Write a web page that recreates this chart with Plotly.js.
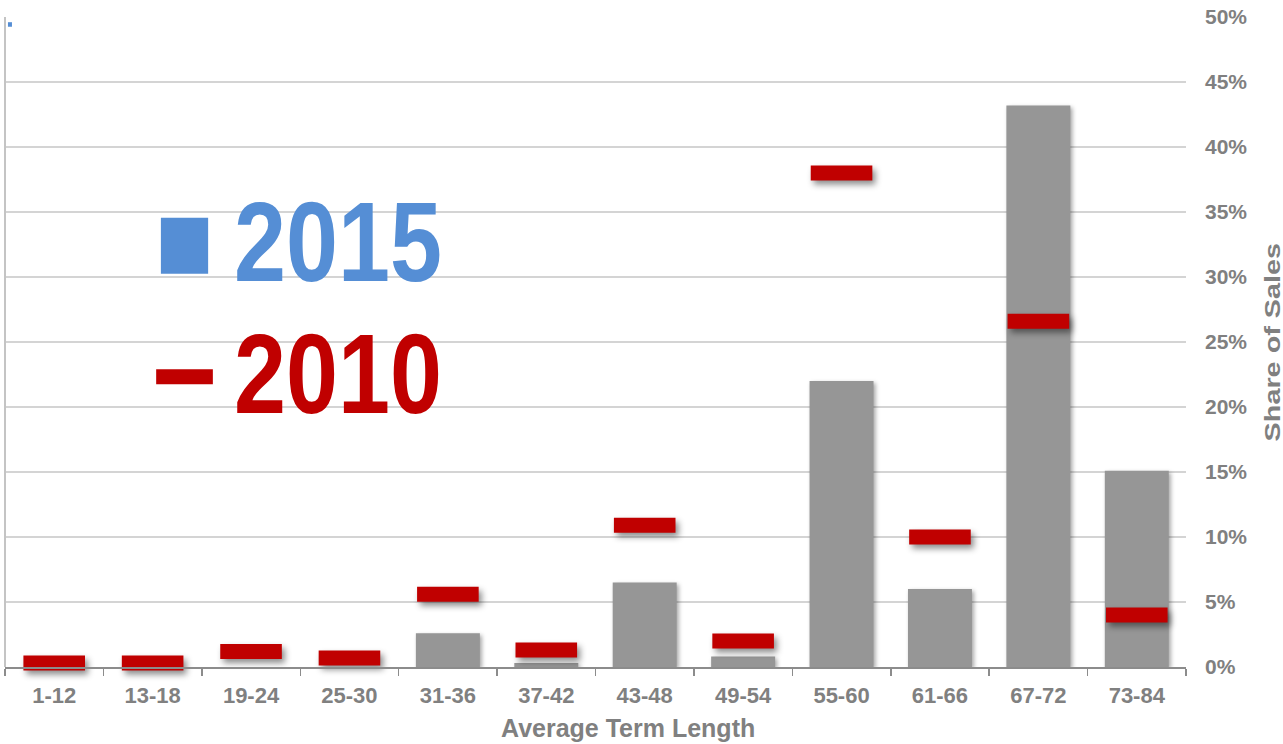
<!DOCTYPE html>
<html>
<head>
<meta charset="utf-8">
<script src="https://cdn.plot.ly/plotly-3.0.1.min.js"></script>
<style>
html,body{margin:0;padding:0;background:#fff;}
#chart{width:1283px;height:744px;}
.barlayer .point path{filter: drop-shadow(2px 2px 2px rgba(0,0,0,0.35));}
.scatterlayer .point{filter: drop-shadow(3px 4px 3px rgba(0,0,0,0.45));}
g.annotation[data-index="0"] text.annotation-text,
g.annotation[data-index="1"] text.annotation-text{transform-box: fill-box; transform-origin: left center; transform: scaleX(0.82);}
g.annotation[data-index="3"] text.annotation-text{transform-box: fill-box; transform-origin: center center; transform: scaleX(1.31);}
</style>
</head>
<body>
<div id="chart"></div>
<script>
var categories = ['1-12','13-18','19-24','25-30','31-36','37-42','43-48','49-54','55-60','61-66','67-72','73-84'];
var share2015 = [0, 0, 0, 0, 2.6, 0.3, 6.5, 0.8, 22.0, 6.0, 43.2, 15.1];
var share2010 = [0.3, 0.3, 1.2, 0.7, 5.6, 1.3, 10.9, 2.0, 38.0, 10.0, 26.6, 4.0];
var yTickVals = [0,5,10,15,20,25,30,35,40,45,50];
var yTickText = ['0%','5%','10%','15%','20%','25%','30%','35%','40%','45%','50%'];

var grayText = '#808080';
var fontMain = 'Liberation Sans, Arial, sans-serif';

var traces = [
  {
    type: 'bar', name: '2015', x: categories, y: share2015,
    marker: {color: '#969696'}, showlegend: false, hoverinfo: 'x+y'
  },
  {
    type: 'scatter', mode: 'markers', name: '2010', x: categories, y: share2010,
    marker: {symbol: 'line-ew', size: 44, color: '#c00000', line: {width: 15, color: '#c00000'}},
    showlegend: false, hoverinfo: 'x+y', cliponaxis: false
  }
];

var layout = {
  width: 1283, height: 744,
  margin: {l: 5, r: 97, t: 17, b: 77},
  paper_bgcolor: '#ffffff', plot_bgcolor: '#ffffff',
  bargap: 0.35,
  showlegend: false,
  xaxis: {
    type: 'category', range: [-0.5, categories.length - 0.5], autorange: false,
    showline: true, linecolor: '#8c8c8c', linewidth: 1.5,
    ticks: 'outside', tickson: 'boundaries', ticklen: 7, tickcolor: '#8c8c8c', tickwidth: 1.5,
    showgrid: false,
    ticklabelstandoff: 8,
    tickfont: {family: fontMain, size: 22, color: grayText, weight: 'bold'}
  },
  yaxis: {
    side: 'right', range: [0, 50], autorange: false,
    tickvals: yTickVals, ticktext: yTickText,
    showgrid: true, gridcolor: '#d4d4d4', gridwidth: 1.5,
    zeroline: false, showline: false, ticks: '',
    ticklabelstandoff: 18,
    tickfont: {family: fontMain, size: 21, color: grayText, weight: 'bold'}
  },
  shapes: [
    {type: 'line', xref: 'paper', yref: 'paper', x0: 0, x1: 0, y0: 0, y1: 1, line: {color: '#c4c4c4', width: 2}},
    {type: 'rect', xref: 'paper', yref: 'paper', x0: 0.0025, x1: 0.0059, y0: 0.985, y1: 0.992, line: {width: 0}, fillcolor: '#558ed5'},
    {type: 'rect', xref: 'paper', yref: 'paper', x0: 0.132, x1: 0.172, y0: 0.605, y1: 0.691, line: {width: 0}, fillcolor: '#558ed5'},
    {type: 'rect', xref: 'paper', yref: 'paper', x0: 0.128, x1: 0.176, y0: 0.435, y1: 0.458, line: {width: 0}, fillcolor: '#c00000'}
  ],
  annotations: [
    {xref: 'paper', yref: 'paper', x: 0.192, y: 0.655, xanchor: 'left', yanchor: 'middle', showarrow: false,
     text: '2015', font: {family: fontMain, size: 114, color: '#558ed5', weight: 'bold'}},
    {xref: 'paper', yref: 'paper', x: 0.192, y: 0.4515, xanchor: 'left', yanchor: 'middle', showarrow: false,
     text: '2010', font: {family: fontMain, size: 114, color: '#c00000', weight: 'bold'}},
    {xref: 'paper', yref: 'paper', x: 0.5275, y: -0.094, xanchor: 'center', yanchor: 'middle', showarrow: false,
     text: 'Average Term Length', font: {family: fontMain, size: 25, color: grayText, weight: 'bold'}},
    {xref: 'paper', yref: 'paper', x: 1.0728, y: 0.5, xanchor: 'center', yanchor: 'middle', showarrow: false, textangle: -90,
     text: 'Share of Sales', font: {family: fontMain, size: 22, color: grayText, weight: 'bold'}}
  ]
};

Plotly.newPlot('chart', traces, layout, {displayModeBar: false, staticPlot: true});
</script>
</body>
</html>
